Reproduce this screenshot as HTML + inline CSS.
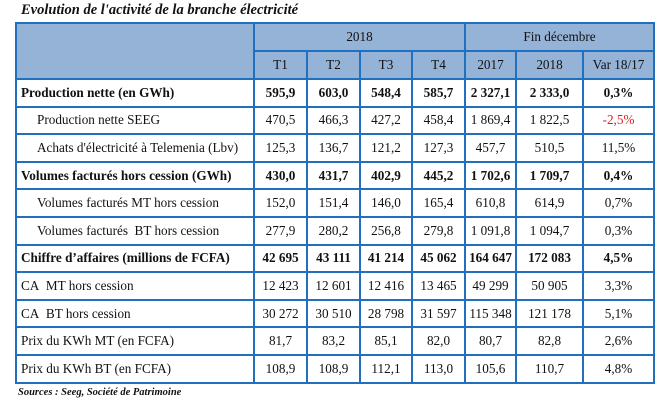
<!DOCTYPE html>
<html><head><meta charset="utf-8"><style>
body{margin:0;width:667px;height:404px;background:#fff;position:relative;font-family:"Liberation Serif",serif;color:#111;}
.t{position:absolute;left:21px;top:2px;font-size:14.5px;font-weight:bold;font-style:italic;}
.s{position:absolute;left:18px;top:387px;font-size:10.5px;font-weight:bold;font-style:italic;}
table{position:absolute;left:15px;top:22px;border-collapse:collapse;font-size:13.2px;}
td{border:2px solid #2070c0;height:25.6px;padding:0;text-align:center;white-space:nowrap;}
td.l{text-align:left;padding-left:4px;}
td.i{text-align:left;padding-left:20px;}
tr.h td{background:#95b3d7;height:26px;}
tr.b td{font-weight:bold;}
.r{color:#e02020;}
</style></head><body>
<div class="t">Evolution de l'activité de la branche électricité</div>
<table>
<colgroup><col style="width:238px"><col style="width:53px"><col style="width:53px"><col style="width:52px"><col style="width:53px"><col style="width:51px"><col style="width:67px"><col style="width:71px"></colgroup>
<tr class="h"><td rowspan="2"></td><td colspan="4">2018</td><td colspan="3">Fin décembre</td></tr>
<tr class="h"><td>T1</td><td>T2</td><td>T3</td><td>T4</td><td>2017</td><td>2018</td><td>Var 18/17</td></tr>
<tr class="b"><td class="l">Production nette (en GWh)</td><td>595,9</td><td>603,0</td><td>548,4</td><td>585,7</td><td>2 327,1</td><td>2 333,0</td><td>0,3%</td></tr>
<tr><td class="i">Production nette SEEG</td><td>470,5</td><td>466,3</td><td>427,2</td><td>458,4</td><td>1 869,4</td><td>1 822,5</td><td class="r">-2,5%</td></tr>
<tr><td class="i">Achats d'électricité à Telemenia (Lbv)</td><td>125,3</td><td>136,7</td><td>121,2</td><td>127,3</td><td>457,7</td><td>510,5</td><td>11,5%</td></tr>
<tr class="b"><td class="l">Volumes facturés hors cession (GWh)</td><td>430,0</td><td>431,7</td><td>402,9</td><td>445,2</td><td>1 702,6</td><td>1 709,7</td><td>0,4%</td></tr>
<tr><td class="i">Volumes facturés MT hors cession</td><td>152,0</td><td>151,4</td><td>146,0</td><td>165,4</td><td>610,8</td><td>614,9</td><td>0,7%</td></tr>
<tr><td class="i">Volumes facturés&nbsp; BT hors cession</td><td>277,9</td><td>280,2</td><td>256,8</td><td>279,8</td><td>1 091,8</td><td>1 094,7</td><td>0,3%</td></tr>
<tr class="b"><td class="l">Chiffre d’affaires (millions de FCFA)</td><td>42 695</td><td>43 111</td><td>41 214</td><td>45 062</td><td>164 647</td><td>172 083</td><td>4,5%</td></tr>
<tr><td class="l">CA&nbsp; MT hors cession</td><td>12 423</td><td>12 601</td><td>12 416</td><td>13 465</td><td>49 299</td><td>50 905</td><td>3,3%</td></tr>
<tr><td class="l">CA&nbsp; BT hors cession</td><td>30 272</td><td>30 510</td><td>28 798</td><td>31 597</td><td>115 348</td><td>121 178</td><td>5,1%</td></tr>
<tr><td class="l">Prix du KWh MT (en FCFA)</td><td>81,7</td><td>83,2</td><td>85,1</td><td>82,0</td><td>80,7</td><td>82,8</td><td>2,6%</td></tr>
<tr><td class="l">Prix du KWh BT (en FCFA)</td><td>108,9</td><td>108,9</td><td>112,1</td><td>113,0</td><td>105,6</td><td>110,7</td><td>4,8%</td></tr>
</table>
<div class="s">Sources : Seeg, Société de Patrimoine</div>
</body></html>
